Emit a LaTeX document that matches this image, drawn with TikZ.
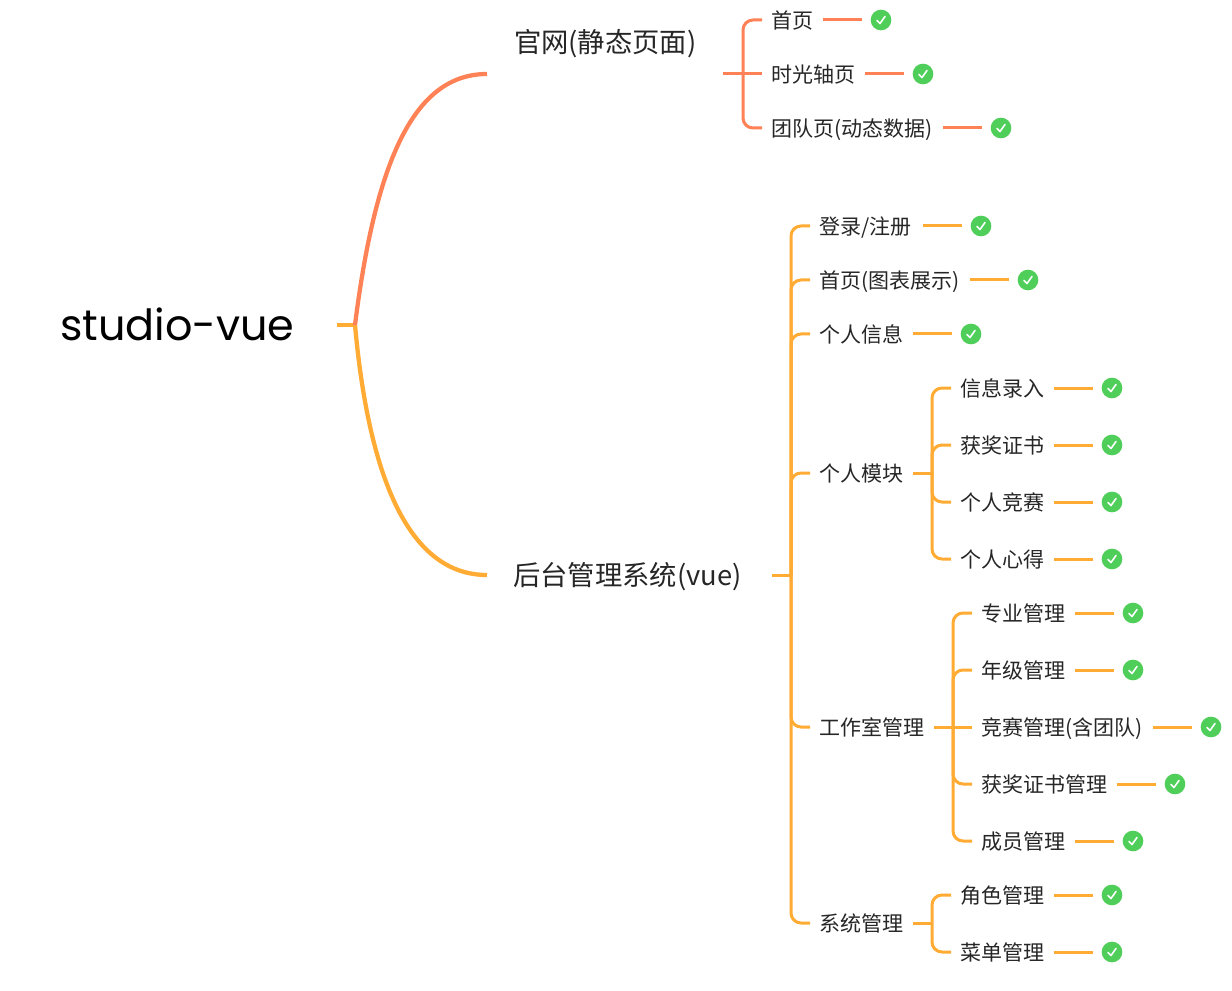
\documentclass[tikz,border=0pt]{standalone}
\usepackage{fontspec}
\setmainfont{Noto Sans CJK SC}
\newfontfamily\rootfont{Poppins}
\usetikzlibrary{calc}
\definecolor{coral}{HTML}{FF8256}
\definecolor{amber}{HTML}{FFAB34}
\definecolor{okgreen}{HTML}{4FCF5A}
\definecolor{ink}{HTML}{262626}
\newcommand{\fs}[1]{\fontsize{#1}{#1}\selectfont}
\tikzset{
  x=0.75pt,y=-0.75pt,
  conn/.style={line width=2.25pt,line cap=butt},
  trunk/.style={line width=2.25pt,rounded corners=7.5pt},
  main/.style={line width=3.2pt,line cap=butt},
  txt/.style={anchor=west,inner sep=0pt,outer sep=0pt,text=ink,font=\fs{15.75pt},text height=14pt,text depth=0.8pt},
  midtxt/.style={anchor=west,inner sep=0pt,outer sep=0pt,text=ink,font=\fs{20.5pt},text height=17pt,text depth=0.8pt},
  roottxt/.style={anchor=west,inner sep=0pt,outer sep=0pt,text=black,font=\rootfont\fs{32.2pt},text height=24pt,text depth=1pt},
  okmark/.style={circle,fill=okgreen,draw=none,minimum size=15.5pt,inner sep=0pt,outer sep=0pt,
    path picture={\draw[white,line width=1.2pt,line cap=round,line join=round]
      ($(path picture bounding box.center)+(-4,0.5)$)--($(path picture bounding box.center)+(-1,3.5)$)--($(path picture bounding box.center)+(4,-3.5)$);}},
}
% #1 id, #2 x, #3 y, #4 text, #5 check x, #6 colour
\newcommand{\leaf}[6]{%
  \node[txt] (#1) at (#2,#3) {#4};
  \node[okmark] (#1c) at (#5,#3) {};
  \draw[conn,#6] ($(#1c.west)+(-48,0)$) -- ($(#1c.west)+(-9,0)$);
}
% #1 hub, #2 child, #3 colour
\newcommand{\twig}[3]{\draw[trunk,#3] (#1) -- (#1 |- #2.west) -- ($(#2.west)+(-9,0)$);}
\begin{document}
\begin{tikzpicture}
\useasboundingbox (0,0) rectangle (1232,991);
\fill[white] (0,0) rectangle (1232,991);

% root and first level
\node[roottxt] (root) at (60,325) {studio-vue};
\coordinate (rootstub) at (337,325);
\coordinate (rooth) at (355,325);
\node[midtxt] (web) at (514,42) {官网(静态页面)};
\node[midtxt] (admin) at (513,575) {后台管理系统(vue)};
\coordinate (webin) at (487,74);
\coordinate (adminin) at (487,575);
\draw[main,amber] (rooth) .. controls (369,480) and (410,575) .. (adminin);
\draw[main,amber] (rootstub) -- (rooth);
\draw[main,coral] (rooth) .. controls (376,158) and (415,74) .. (webin);

% official site branch
\coordinate (webout) at (723,74);
\coordinate (webhub) at (743,74);
\leaf{a1}{771}{20}{首页}{881}{coral}
\leaf{a2}{771}{74}{时光轴页}{923}{coral}
\leaf{a3}{771}{128}{团队页(动态数据)}{1001}{coral}
\twig{webhub}{a1}{coral}
\twig{webhub}{a3}{coral}
\draw[conn,coral] (webout) -- ($(a2.west)+(-9,0)$);

% admin branch
\coordinate (adminout) at (772,575);
\coordinate (adminhub) at (791,575);
\draw[conn,amber] (adminout) -- (adminhub);
\leaf{b1}{819}{226}{登录/注册}{981}{amber}
\leaf{b2}{819}{280}{首页(图表展示)}{1028}{amber}
\leaf{b3}{819}{334}{个人信息}{971}{amber}
\node[txt] (b4) at (819,473) {个人模块};
\node[txt] (b5) at (819,727) {工作室管理};
\node[txt] (b6) at (819,923) {系统管理};
\foreach \c in {b1,b2,b3,b4,b5,b6}{\twig{adminhub}{\c}{amber}}

% personal module
\coordinate (chub) at (932,473);
\draw[conn,amber] ($(b4.east)+(9.5,0)$) -- (chub);
\leaf{c1}{960}{388}{信息录入}{1112}{amber}
\leaf{c2}{960}{445}{获奖证书}{1112}{amber}
\leaf{c3}{960}{502}{个人竞赛}{1112}{amber}
\leaf{c4}{960}{559}{个人心得}{1112}{amber}
\foreach \c in {c1,c2,c3,c4}{\twig{chub}{\c}{amber}}

% studio management
\coordinate (dhub) at (953,727);
\leaf{d1}{981}{613}{专业管理}{1133}{amber}
\leaf{d2}{981}{670}{年级管理}{1133}{amber}
\leaf{d3}{981}{727}{竞赛管理(含团队)}{1211}{amber}
\leaf{d4}{981}{784}{获奖证书管理}{1175}{amber}
\leaf{d5}{981}{841}{成员管理}{1133}{amber}
\foreach \c in {d1,d2,d4,d5}{\twig{dhub}{\c}{amber}}
\draw[conn,amber] ($(b5.east)+(9.5,0)$) -- ($(d3.west)+(-9,0)$);

% system management
\coordinate (ehub) at (932,923);
\draw[conn,amber] ($(b6.east)+(9.5,0)$) -- (ehub);
\leaf{e1}{960}{895}{角色管理}{1112}{amber}
\leaf{e2}{960}{952}{菜单管理}{1112}{amber}
\foreach \c in {e1,e2}{\twig{ehub}{\c}{amber}}
\end{tikzpicture}
\end{document}
